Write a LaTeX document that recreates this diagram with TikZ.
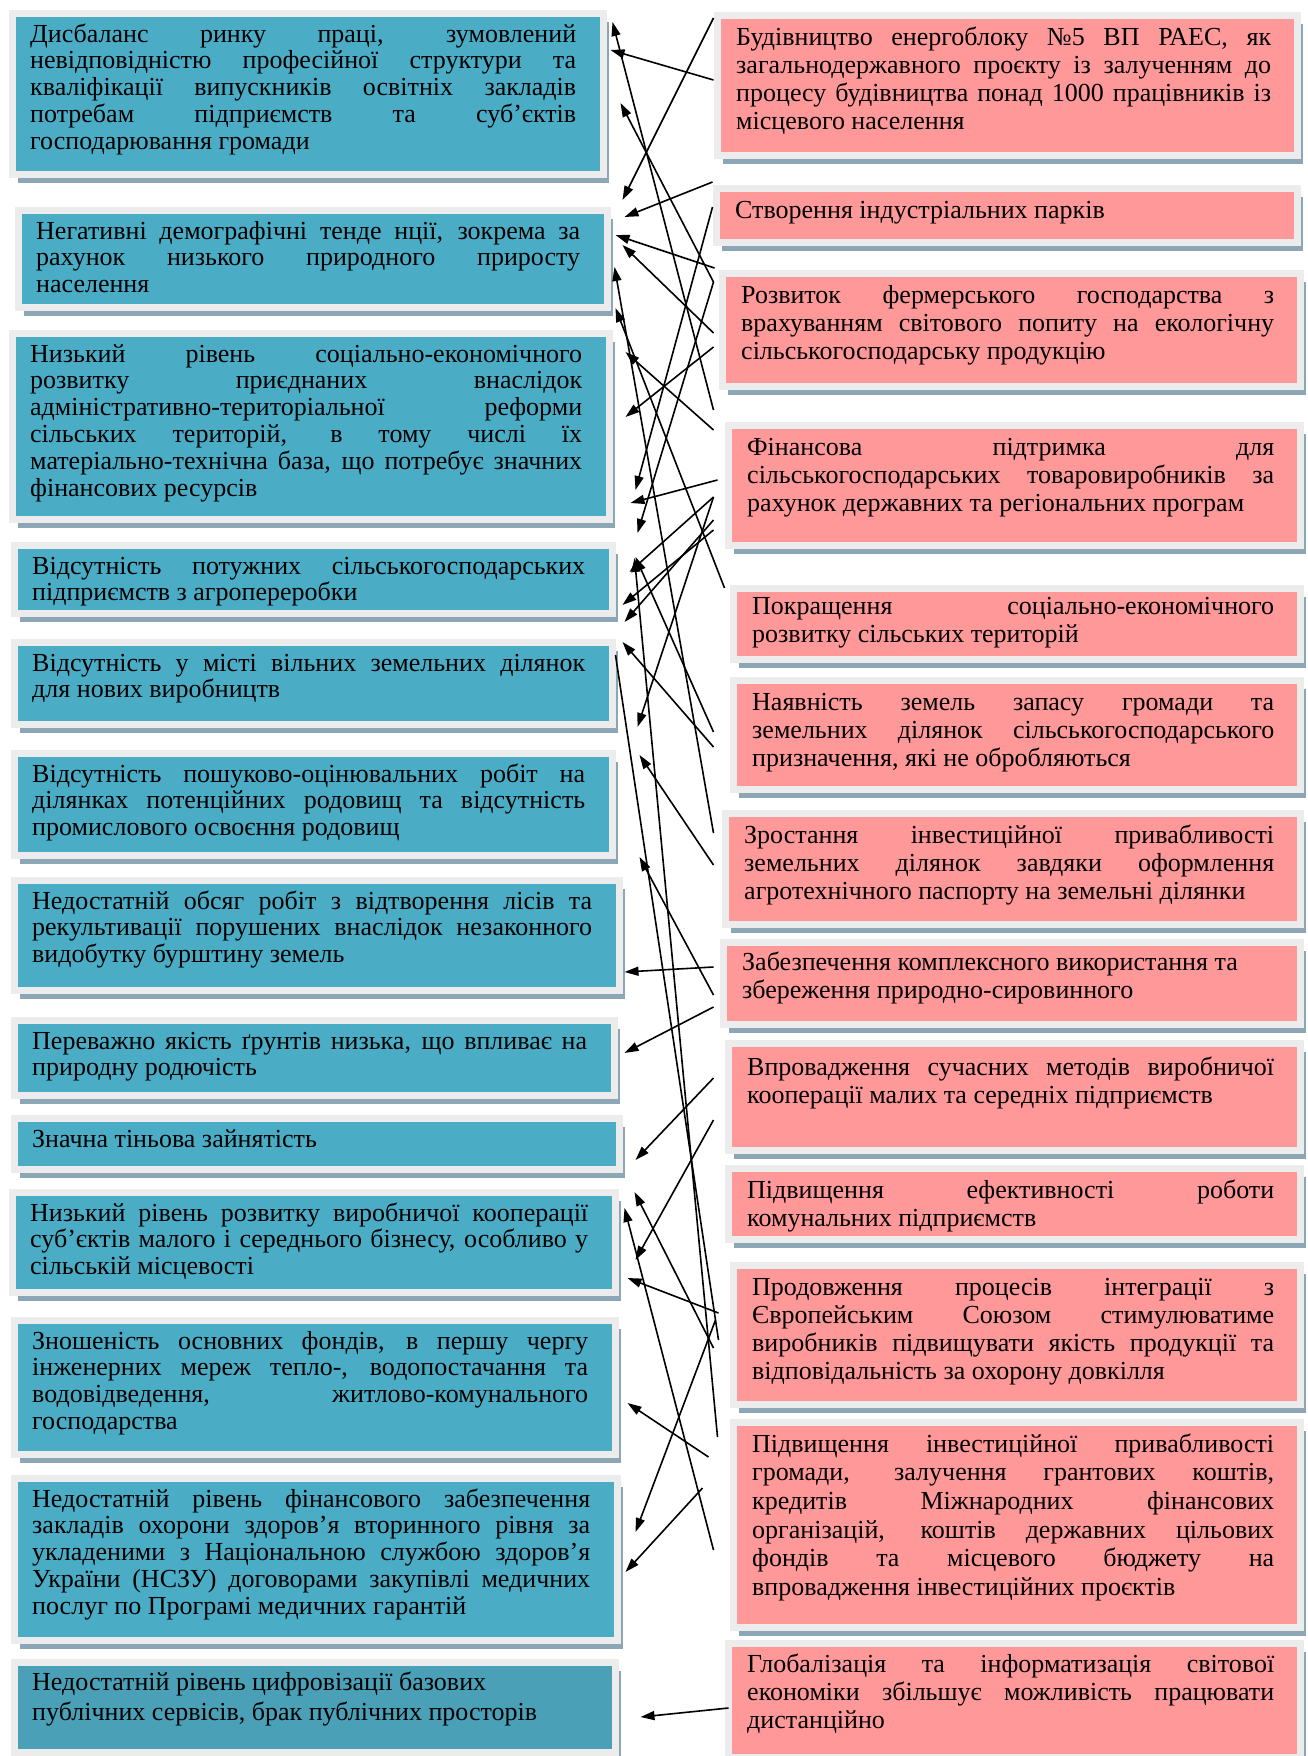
\documentclass[tikz,border=0pt]{standalone}
\usepackage{fontspec}
\setmainfont{Liberation Serif}
\usetikzlibrary{arrows.meta,shadows,calc}

\definecolor{cellblue}{RGB}{75,172,198}
\definecolor{cellbluedark}{RGB}{73,160,183}
\definecolor{cellpink}{RGB}{255,153,153}
\definecolor{framegray}{RGB}{236,236,236}
\definecolor{shadowgray}{RGB}{140,166,181}

% one justified line of a box
\newcommand{\jrow}[1]{\makebox[\hsize][s]{\spaceskip=\fontdimen2\font plus 1fil minus \fontdimen4\font\relax #1}}

\begin{document}
\begin{tikzpicture}[x=1pt, y=-1pt,
        >={Triangle[length=14pt,width=9pt]},
        cell/.style={draw=framegray, line width=7pt, inner sep=0pt, anchor=north west,
            drop shadow={shadow xshift=6pt, shadow yshift=-8.5pt, fill=shadowgray, opacity=1}},
        lbox/.style={cell, fill=cellblue},
        rbox/.style={cell, fill=cellpink},
        ltext/.style={anchor=base west, inner sep=0pt, align=justify,
            font=\fontsize{26}{26.8}\selectfont},
        rtext/.style={ltext, font=\fontsize{26}{28.2}\selectfont},
        link/.style={->, line width=1.6pt}]

    \fill[white] (0,0) rectangle (1307,1756);
    \useasboundingbox (0,0) rectangle (1307,1756);

    % Left column: problems
    \node[lbox, minimum width=591pt, minimum height=161pt] (l1) at (8.5,9.5) {};
    \node[lbox, minimum width=589pt, minimum height=97pt] (l2) at (14.5,206.5) {};
    \node[lbox, minimum width=597pt, minimum height=186pt] (l3) at (8.5,329.5) {};
    \node[lbox, minimum width=598pt, minimum height=68pt] (l4) at (10.5,541.5) {};
    \node[lbox, minimum width=598pt, minimum height=82pt] (l5) at (10.5,638.5) {};
    \node[lbox, minimum width=598pt, minimum height=102pt] (l6) at (10.5,749.5) {};
    \node[lbox, minimum width=605pt, minimum height=110pt] (l7) at (10.5,876.5) {};
    \node[lbox, minimum width=600pt, minimum height=75pt] (l8) at (10.5,1016.5) {};
    \node[lbox, minimum width=605pt, minimum height=51pt] (l9) at (10.5,1114.5) {};
    \node[lbox, minimum width=603pt, minimum height=100pt] (l10) at (8.5,1188.5) {};
    \node[lbox, minimum width=601pt, minimum height=134pt] (l11) at (10.5,1316.5) {};
    \node[lbox, minimum width=603pt, minimum height=162pt] (l12) at (10.5,1474.5) {};
    \node[lbox, fill=cellbluedark, minimum width=601pt, minimum height=90pt] (l13) at (10.5,1658.5) {};

    \node[ltext, text width=546pt] (l1t) at ([shift={(21.5,32.5)}]l1.north west)
        {\jrow{Дисбаланс ринку праці, зумовлений}\\
         \jrow{невідповідністю професійної структури та}\\
         \jrow{кваліфікації випускників освітніх закладів}\\
         \jrow{потребам підприємств та суб’єктів}\\
         господарювання громади};
    \node[ltext, text width=544pt] (l2t) at ([shift={(21.5,32.5)}]l2.north west)
        {\jrow{Негативні демографічні тенде нції, зокрема за}\\
         \jrow{рахунок низького природного приросту}\\
         населення};
    \node[ltext, text width=552pt] (l3t) at ([shift={(21.5,32.5)}]l3.north west)
        {\jrow{Низький рівень соціально-економічного}\\
         \jrow{розвитку приєднаних внаслідок}\\
         \jrow{адміністративно-територіальної реформи}\\
         \jrow{сільських територій, в тому числі їх}\\
         \jrow{матеріально-технічна база, що потребує значних}\\
         фінансових ресурсів};
    \begin{scope}
        \clip ([shift={(3.5,3.5)}]l4.north west) rectangle ([shift={(-3.5,-3.5)}]l4.south east);
        \node[ltext, text width=553pt] (l4t) at ([shift={(21.5,32.5)}]l4.north west)
            {\jrow{Відсутність потужних сільськогосподарських}\\
             підприємств з агропереробки};
    \end{scope}
    \node[ltext, text width=553pt] (l5t) at ([shift={(21.5,32.5)}]l5.north west)
        {\jrow{Відсутність у місті вільних земельних ділянок}\\
         для нових виробництв};
    \node[ltext, text width=553pt] (l6t) at ([shift={(21.5,32.5)}]l6.north west)
        {\jrow{Відсутність пошуково-оцінювальних робіт на}\\
         \jrow{ділянках потенційних родовищ та відсутність}\\
         промислового освоєння родовищ};
    \node[ltext, text width=560pt] (l7t) at ([shift={(21.5,32.5)}]l7.north west)
        {\jrow{Недостатній обсяг робіт з відтворення лісів та}\\
         \jrow{рекультивації порушених внаслідок незаконного}\\
         видобутку бурштину земель};
    \node[ltext, text width=555pt] (l8t) at ([shift={(21.5,32.5)}]l8.north west)
        {\jrow{Переважно якість ґрунтів низька, що впливає на}\\
         природну родючість};
    \node[ltext] (l9t) at ([shift={(21.5,32.5)}]l9.north west) {Значна тіньова зайнятість};
    \node[ltext, text width=558pt] (l10t) at ([shift={(21.5,32.5)}]l10.north west)
        {\jrow{Низький рівень розвитку виробничої кооперації}\\
         \jrow{суб’єктів малого і середнього бізнесу, особливо у}\\
         сільській місцевості};
    \node[ltext, text width=556pt] (l11t) at ([shift={(21.5,32.5)}]l11.north west)
        {\jrow{Зношеність основних фондів, в першу чергу}\\
         \jrow{інженерних мереж тепло-, водопостачання та}\\
         \jrow{водовідведення, житлово-комунального}\\
         господарства};
    \node[ltext, text width=558pt] (l12t) at ([shift={(21.5,32.5)}]l12.north west)
        {\jrow{Недостатній рівень фінансового забезпечення}\\
         \jrow{закладів охорони здоров’я вторинного рівня за}\\
         \jrow{укладеними з Національною службою здоров’я}\\
         \jrow{України (НСЗУ) договорами закупівлі медичних}\\
         послуг по Програмі медичних гарантій};
    \node[ltext, font=\fontsize{26}{30}\selectfont, text width=556pt] (l13t) at ([shift={(21.5,31.5)}]l13.north west)
        {Недостатній рівень цифровізації базових\\
         публічних сервісів, брак публічних просторів};

    % Right column: opportunities
    \node[rbox, minimum width=580pt, minimum height=140pt] (r1) at (713.5,11.5) {};
    \node[rbox, minimum width=581pt, minimum height=54pt] (r2) at (712.5,184.5) {};
    \node[rbox, minimum width=578pt, minimum height=113pt] (r3) at (718.5,269.5) {};
    \node[rbox, minimum width=572pt, minimum height=120pt] (r4) at (724.5,421.5) {};
    \node[rbox, minimum width=567pt, minimum height=71pt] (r5) at (729.5,584.5) {};
    \node[rbox, minimum width=567pt, minimum height=109pt] (r6) at (729.5,676.5) {};
    \node[rbox, minimum width=575pt, minimum height=111pt] (r7) at (721.5,809.5) {};
    \node[rbox, minimum width=577pt, minimum height=82pt] (r8) at (719.5,938.5) {};
    \node[rbox, minimum width=572pt, minimum height=107pt] (r9) at (724.5,1039.5) {};
    \node[rbox, minimum width=572pt, minimum height=71pt] (r10) at (724.5,1164.5) {};
    \node[rbox, minimum width=567pt, minimum height=139pt] (r11) at (729.5,1261.5) {};
    \node[rbox, minimum width=567pt, minimum height=205pt] (r12) at (729.5,1418.5) {};
    \node[rbox, minimum width=572pt, minimum height=114pt] (r13) at (724.5,1639.5) {};

    \node[rtext, text width=535pt] (r1t) at ([shift={(22.5,33.5)}]r1.north west)
        {\jrow{Будівництво енергоблоку №5 ВП РАЕС, як}\\
         \jrow{загальнодержавного проєкту із залученням до}\\
         \jrow{процесу будівництва понад 1000 працівників із}\\
         місцевого населення};
    \node[rtext] (r2t) at ([shift={(22.5,33.5)}]r2.north west) {Створення індустріальних парків};
    \node[rtext, text width=533pt] (r3t) at ([shift={(22.5,33.5)}]r3.north west)
        {\jrow{Розвиток фермерського господарства з}\\
         \jrow{врахуванням світового попиту на екологічну}\\
         сільськогосподарську продукцію};
    \node[rtext, text width=527pt] (r4t) at ([shift={(22.5,33.5)}]r4.north west)
        {\jrow{Фінансова підтримка для}\\
         \jrow{сільськогосподарських товаровиробників за}\\
         рахунок державних та регіональних програм};
    \node[rtext, text width=522pt] (r5t) at ([shift={(22.5,29.5)}]r5.north west)
        {\jrow{Покращення соціально-економічного}\\
         розвитку сільських територій};
    \node[rtext, text width=522pt] (r6t) at ([shift={(22.5,33.5)}]r6.north west)
        {\jrow{Наявність земель запасу громади та}\\
         \jrow{земельних ділянок сільськогосподарського}\\
         призначення, які не обробляються};
    \node[rtext, text width=530pt] (r7t) at ([shift={(22.5,33.5)}]r7.north west)
        {\jrow{Зростання інвестиційної привабливості}\\
         \jrow{земельних ділянок завдяки оформлення}\\
         агротехнічного паспорту на земельні ділянки};
    \node[rtext, text width=532pt] (r8t) at ([shift={(22.5,31.5)}]r8.north west)
        {Забезпечення комплексного використання та\\
         збереження природно-сировинного};
    \node[rtext, text width=527pt] (r9t) at ([shift={(22.5,35.5)}]r9.north west)
        {\jrow{Впровадження сучасних методів виробничої}\\
         кооперації малих та середніх підприємств};
    \begin{scope}
        \clip ([shift={(3.5,3.5)}]r10.north west) rectangle ([shift={(-3.5,-3.5)}]r10.south east);
        \node[rtext, text width=527pt] (r10t) at ([shift={(22.5,33.5)}]r10.north west)
            {\jrow{Підвищення ефективності роботи}\\
             комунальних підприємств};
    \end{scope}
    \node[rtext, text width=522pt] (r11t) at ([shift={(22.5,33.5)}]r11.north west)
        {\jrow{Продовження процесів інтеграції з}\\
         \jrow{Європейським Союзом стимулюватиме}\\
         \jrow{виробників підвищувати якість продукції та}\\
         відповідальність за охорону довкілля};
    \node[rtext, font=\fontsize{26}{28.7}\selectfont, text width=522pt] (r12t) at ([shift={(22.5,33.5)}]r12.north west)
        {\jrow{Підвищення інвестиційної привабливості}\\
         \jrow{громади, залучення грантових коштів,}\\
         \jrow{кредитів Міжнародних фінансових}\\
         \jrow{організацій, коштів державних цільових}\\
         \jrow{фондів та місцевого бюджету на}\\
         впровадження інвестиційних проєктів};
    \node[rtext, text width=527pt] (r13t) at ([shift={(22.5,32.5)}]r13.north west)
        {\jrow{Глобалізація та інформатизація світової}\\
         \jrow{економіки збільшує можливість працювати}\\
         дистанційно};

    % Links from opportunities to problems
    \draw[link] (r1.west |- 0,80) -- ($(l1.east |- 0,50)+(4,0)$);
    \draw[link] (r1.west |- 0,18) -- ($(l2.east |- 0,200)+(12,0)$);
    \draw[link] (r2.west |- 0,182) -- ($(l2.east |- 0,217)+(14,0)$);
    \draw[link] ($(r3.west |- 0,268)+(-4,0)$) -- ($(l2.east |- 0,235)+(5,0)$);
    \draw[link] ($(r3.west |- 0,333)+(-5,0)$) -- ($(l2.east |- 0,245)+(12,0)$);
    \draw[link] ($(r3.west |- 0,410)+(-5,0)$) -- ($(l1.east |- 0,22)+(6,0)$);
    \draw[link] ($(r3.west |- 0,282)+(-5,0)$) -- ($(l1.east |- 0,103)+(14,0)$);
    \draw[link] ($(r7.west |- 0,833)+(-8,0)$) -- ($(l2.east |- 0,267)+(4,0)$);
    \draw[link] ($(r5.west |- 0,588)+(-5,0)$) -- ($(l3.east |- 0,308)+(3,0)$);
    \draw[link] ($(r4.west |- 0,430)+(-11,0)$) -- ($(l3.east |- 0,352)+(13,0)$);
    \draw[link] ($(r3.west |- 0,347)+(-5,0)$) -- ($(l3.east |- 0,417)+(13,0)$);
    \draw[link] (r2.west |- 0,207) -- ($(l3.east |- 0,490)+(23,0)$);
    \draw[link] ($(r4.west |- 0,480)+(-7,0)$) -- ($(l3.east |- 0,503)+(18,0)$);
    \draw[link] ($(r3.west |- 0,282)+(-5,0)$) -- ($(l4.east |- 0,533)+(22,0)$);
    \draw[link] ($(r6.west |- 0,732)+(-16,0)$) -- ($(l4.east |- 0,557)+(20,0)$);
    \draw[link] ($(r12.west |- 0,1437)+(-12,0)$) -- ($(l4.east |- 0,558)+(19,0)$);
    \draw[link] ($(r4.west |- 0,497)+(-11,0)$) -- ($(l4.east |- 0,572)+(14,0)$);
    \draw[link] ($(r4.west |- 0,530)+(-11,0)$) -- ($(l4.east |- 0,605)+(7,0)$);
    \draw[link] ($(r4.west |- 0,520)+(-11,0)$) -- ($(l5.east |- 0,622)+(9,0)$);
    \draw[link] ($(r6.west |- 0,747)+(-16,0)$) -- ($(l5.east |- 0,642)+(7,0)$);
    \draw[link] ($(r4.west |- 0,497)+(-11,0)$) -- ($(l6.east |- 0,727)+(22,0)$);
    \draw[link] ($(r7.west |- 0,865)+(-8,0)$) -- ($(l6.east |- 0,755)+(24,0)$);
    \draw[link] ($(r8.west |- 0,995)+(-6,0)$) -- ($(l7.east |- 0,857)+(17,0)$);
    \draw[link] ($(r8.west |- 0,967)+(-6,0)$) -- ($(l7.east |- 0,972)+(2,0)$);
    \draw[link] ($(r8.west |- 0,1007)+(-6,0)$) -- ($(l8.east |- 0,1053)+(7,0)$);
    \draw[link] ($(r9.west |- 0,1078)+(-11,0)$) -- ($(l9.east |- 0,1160)+(13,0)$);
    \draw[link] ($(r9.west |- 0,1120)+(-11,0)$) -- ($(l10.east |- 0,1260)+(17,0)$);
    \draw[line width=1.6pt] ($(r11.west |- 0,1340)+(-11,0)$) -- (l5.east |- 0,655);
    \draw[link] ($(r11.west |- 0,1348)+(-16,0)$) -- ($(l10.east |- 0,1192)+(16,0)$);
    \draw[link] ($(r12.west |- 0,1550)+(-16,0)$) -- ($(l10.east |- 0,1208)+(6,0)$);
    \draw[link] ($(r11.west |- 0,1313)+(-11,0)$) -- ($(l10.east |- 0,1278)+(9,0)$);
    \draw[link] ($(r12.west |- 0,1457)+(-21,0)$) -- ($(l11.east |- 0,1403)+(9,0)$);
    \draw[link] ($(r11.west |- 0,1320)+(-14,0)$) -- ($(l12.east |- 0,1532)+(15,0)$);
    \draw[link] ($(r12.west |- 0,1488)+(-27,0)$) -- ($(l12.east |- 0,1572)+(5,0)$);
    \draw[link] ($(r13.west |- 0,1708)+(4,0)$) -- ($(l13.east |- 0,1717)+(22,0)$);
\end{tikzpicture}
\end{document}
